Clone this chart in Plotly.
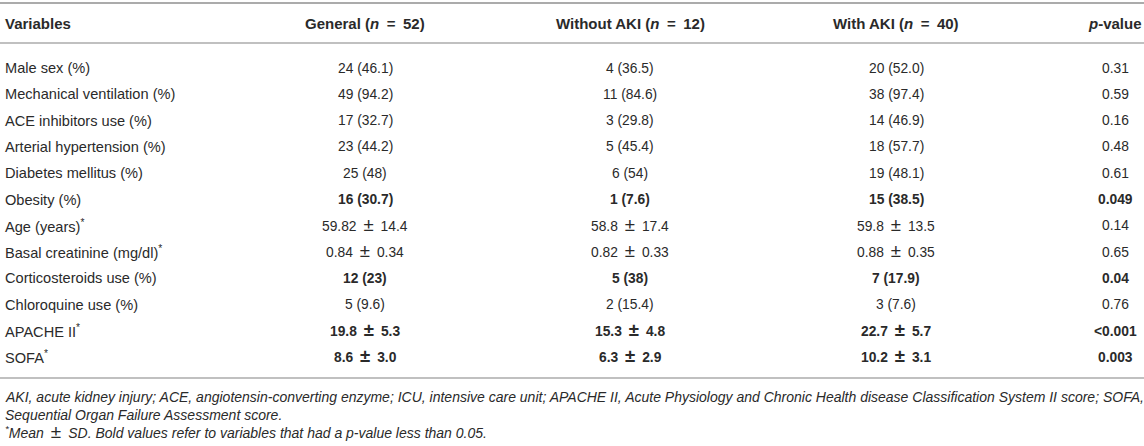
import plotly.graph_objects as go

# table content
headers = ['Variables', 'General (<i>n</i> = 52)', 'Without AKI (<i>n</i> = 12)',
           'With AKI (<i>n</i> = 40)', '<i>p</i>-value']

variables = ['Male sex (%)', 'Mechanical ventilation (%)', 'ACE inhibitors use (%)',
             'Arterial hypertension (%)', 'Diabetes mellitus (%)', 'Obesity (%)',
             'Age (years)<sup>*</sup>', 'Basal creatinine (mg/dl)<sup>*</sup>',
             'Corticosteroids use (%)', 'Chloroquine use (%)', 'APACHE II<sup>*</sup>',
             'SOFA<sup>*</sup>']
general = ['24 (46.1)', '49 (94.2)', '17 (32.7)', '23 (44.2)', '25 (48)', '16 (30.7)',
           '59.82 ± 14.4', '0.84 ± 0.34', '12 (23)', '5 (9.6)', '19.8 ± 5.3', '8.6 ± 3.0']
without_aki = ['4 (36.5)', '11 (84.6)', '3 (29.8)', '5 (45.4)', '6 (54)', '1 (7.6)',
               '58.8 ± 17.4', '0.82 ± 0.33', '5 (38)', '2 (15.4)', '15.3 ± 4.8', '6.3 ± 2.9']
with_aki = ['20 (52.0)', '38 (97.4)', '14 (46.9)', '18 (57.7)', '19 (48.1)', '15 (38.5)',
            '59.8 ± 13.5', '0.88 ± 0.35', '7 (17.9)', '3 (7.6)', '22.7 ± 5.7', '10.2 ± 3.1']
p_values = ['0.31', '0.59', '0.16', '0.48', '0.61', '0.049',
            '0.14', '0.65', '0.04', '0.76', '<0.001', '0.003']
bold_rows = [False, False, False, False, False, True,
             False, False, True, False, True, True]

footnotes = [
    'AKI, acute kidney injury; ACE, angiotensin-converting enzyme; ICU, intensive care unit; '
    'APACHE II, Acute Physiology and Chronic Health disease Classification System II score; SOFA,',
    'Sequential Organ Failure Assessment score.',
    '<sup>*</sup>Mean ± SD. Bold values refer to variables that had a p-value less than 0.05.',
]

W, H = 1144, 446
FONT = 'Liberation Sans, Arial, sans-serif'
TXT = '#2a2a2a'
LINE = '#ababab'

col_x = [3, 365, 630, 896, 1115]
header_y = 23
row0_y = 68
row_step = 26.3
foot_y0 = 397
foot_step = 18

fig = go.Figure()
fig.add_trace(go.Scatter(x=[0, W], y=[0, H], mode='markers',
                         marker=dict(opacity=0), hoverinfo='skip', showlegend=False))

annotations = []


def mathify(text, size):
    # wider math-style operators, like the typeset table
    big = round(size * 1.35, 1)
    text = text.replace(' ± ', f'\u2002<span style="font-size:{big}px">±</span>\u2002')
    text = text.replace(' = ', '\u2002=\u2002')
    return text


def add_text(x, y, text, anchor, size, bold=False, italic=False):
    # the larger ± glyph makes the box taller, nudge it back onto the row
    shift = 1.5 if ' ± ' in text else 0
    text = mathify(text, size)
    if bold:
        text = f'<b>{text}</b>'
    if italic:
        text = f'<i>{text}</i>'
    annotations.append(dict(x=x, y=y, xref='x', yref='y', text=text, showarrow=False,
                            xanchor=anchor, yanchor='middle', yshift=shift,
                            font=dict(family=FONT, size=size, color=TXT)))


for j, h in enumerate(headers):
    add_text(col_x[j], header_y, h, 'left' if j == 0 else 'center', 15, bold=True)

columns = [general, without_aki, with_aki, p_values]
for i, var in enumerate(variables):
    y = row0_y + i * row_step
    add_text(col_x[0], y, var, 'left', 14.6)
    for j, col in enumerate(columns):
        add_text(col_x[j + 1], y, col[i], 'center', 13.8, bold=bold_rows[i])

for k, note in enumerate(footnotes):
    add_text(col_x[0], foot_y0 + k * foot_step, note, 'left', 14, italic=True)

shapes = [
    dict(type='line', xref='x', yref='y', x0=0, x1=W, y0=3, y1=3,
         line=dict(color=LINE, width=2)),
    dict(type='line', xref='x', yref='y', x0=0, x1=W, y0=43, y1=43,
         line=dict(color=LINE, width=1.6)),
    dict(type='line', xref='x', yref='y', x0=0, x1=W, y0=378, y1=378,
         line=dict(color=LINE, width=1.6)),
]

fig.update_layout(
    width=W, height=H,
    margin=dict(l=0, r=0, t=0, b=0),
    paper_bgcolor='white', plot_bgcolor='white',
    annotations=annotations, shapes=shapes,
    showlegend=False,
)
fig.update_xaxes(range=[0, W], visible=False, fixedrange=True)
fig.update_yaxes(range=[H, 0], visible=False, fixedrange=True)

fig.write_html('out.html', config={'displayModeBar': False, 'staticPlot': True},
               post_script="document.body.style.margin='0';")
